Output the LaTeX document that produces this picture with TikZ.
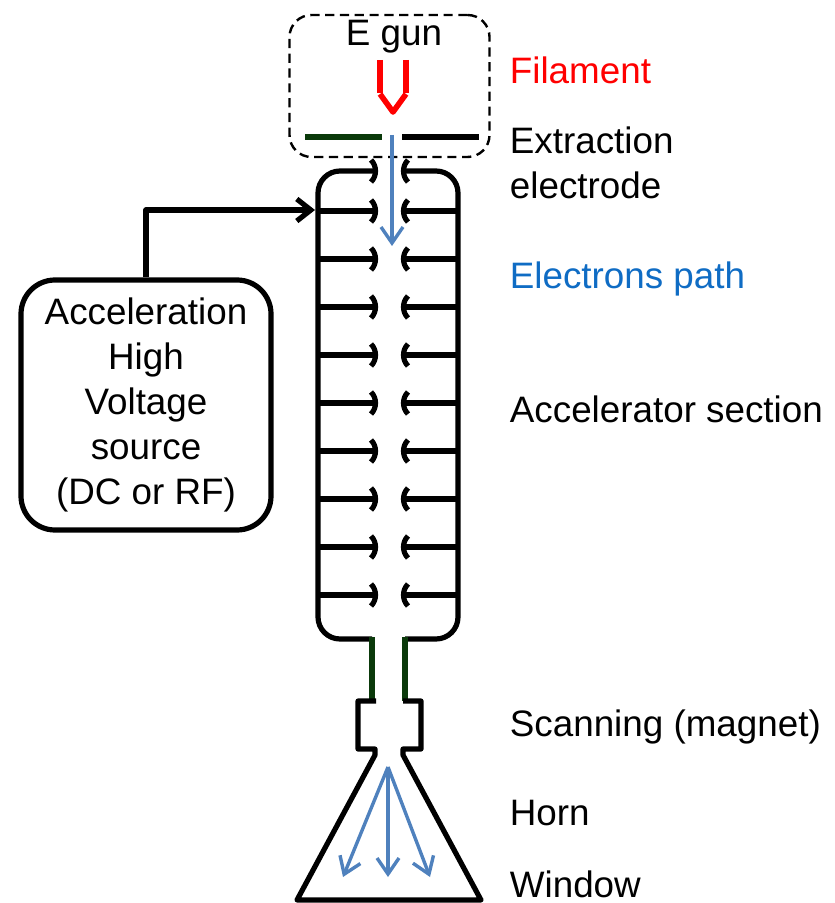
\documentclass[tikz,border=0pt]{standalone}
\usepackage{fontspec}
\setmainfont{Liberation Sans}
\usetikzlibrary{arrows.meta}
\definecolor{beamblue}{HTML}{4F81BD}
\definecolor{labelblue}{HTML}{0F6CC4}
\definecolor{darkgreen}{HTML}{0B3A0B}
\begin{document}
\begin{tikzpicture}[x=0.5pt, y=-0.5pt, line join=round,
        wall/.style={draw=black, line width=2.6pt},
        plate/.style={line width=2.8pt},
        beam/.style={draw=beamblue, line width=1.7pt, -{Straight Barb[length=8pt, width=11pt, line width=1.7pt]}},
        tag/.style={anchor=west, inner sep=0pt, font=\fontsize{18.4}{22.4}\selectfont}]

        \useasboundingbox (0,0) rectangle (834,903);

        % E gun
        \node[draw=black, dash pattern=on 4.6pt off 2.8pt, line width=1.2pt, rounded corners=11pt, minimum width=100pt, minimum height=71pt, inner sep=0pt] (gunbox) at (389.5,86) {};
        \node[font=\fontsize{18.4}{22.4}\selectfont, inner sep=0pt] (guntitle) at (394,37) {E gun};
        \draw[red, line width=2.8pt] (380,60) -- (380,93);
        \draw[red, line width=2.8pt] (406,60) -- (406,93);
        \draw[red, line width=2.8pt] (380,94) -- (393,112) -- (406,94);

        % Extraction electrode
        \draw[plate, darkgreen] (305,137) -- (382,137);
        \draw[plate, black] (402,137) -- (479,137);

        % Accelerator section
        \draw[wall, rounded corners=11pt] (376,171) -- (318,171) -- (318,639) -- (372,639);
        \draw[wall, rounded corners=11pt] (403,171) -- (458,171) -- (458,639) -- (405,639);
        \foreach \y in {211,259,...,595} {
            \draw[wall] (318,\y) -- (375,\y);
            \draw[wall] (458,\y) -- (403,\y);
        }
        \foreach \y in {171,211,259,...,595} {
            \draw[wall] (371,\y-11) .. controls (377,\y-5) and (377,\y+5) .. (371,\y+11);
            \draw[wall] (408,\y-11) .. controls (402,\y-5) and (402,\y+5) .. (408,\y+11);
        }

        % Neck
        \draw[plate, darkgreen] (372,637) -- (372,701);
        \draw[plate, darkgreen] (405,637) -- (405,701);

        % Scanning magnet and horn
        \draw[wall] (376,701) -- (358,701) -- (358,749) -- (375,749) -- (375,755) -- (297,900) -- (481,900) -- (403,755) -- (403,749) -- (421,749) -- (421,701) -- (403,701);

        % Electrons path
        \coordinate (beamstart) at (392,135);
        \coordinate (beamend) at (392,246);
        \coordinate (hornapex) at (388,767);
        \coordinate (hornleft) at (343,877);
        \coordinate (hornmid) at (388,877);
        \coordinate (hornright) at (430,877);
        \draw[beam] (beamstart) -- (beamend);
        \draw[beam] (hornapex) -- (hornleft);
        \draw[beam] (hornapex) -- (hornmid);
        \draw[beam] (hornapex) -- (hornright);

        % High voltage source
        \node[draw=black, line width=2.6pt, rounded corners=17pt, minimum width=125pt, minimum height=125pt, align=center, inner sep=0pt, font=\fontsize{18.4}{22.4}\selectfont] (hvsource) at (146,405) {Acceleration\\High\\Voltage\\source\\(DC or RF)};
        \coordinate (accelport) at (315,210);
        \draw[line width=2.6pt, -{Straight Barb[length=7pt, width=11pt, line width=2.6pt]}] (hvsource.north) |- (accelport);

        % Labels
        \node[tag, text=red] (filamentlabel) at (509.5,70) {Filament};
        \node[tag, align=left] (electrodelabel) at (509.5,163) {Extraction\\electrode};
        \node[tag, text=labelblue] (pathlabel) at (509.5,279) {Electrons path};
        \node[tag] (sectionlabel) at (509.5,409) {Accelerator section};
        \node[tag] (scanlabel) at (509.5,727) {Scanning (magnet)};
        \node[tag] (hornlabel) at (509.5,813) {Horn};
        \node[tag] (windowlabel) at (509.5,884) {Window};

    \end{tikzpicture}
\end{document}
